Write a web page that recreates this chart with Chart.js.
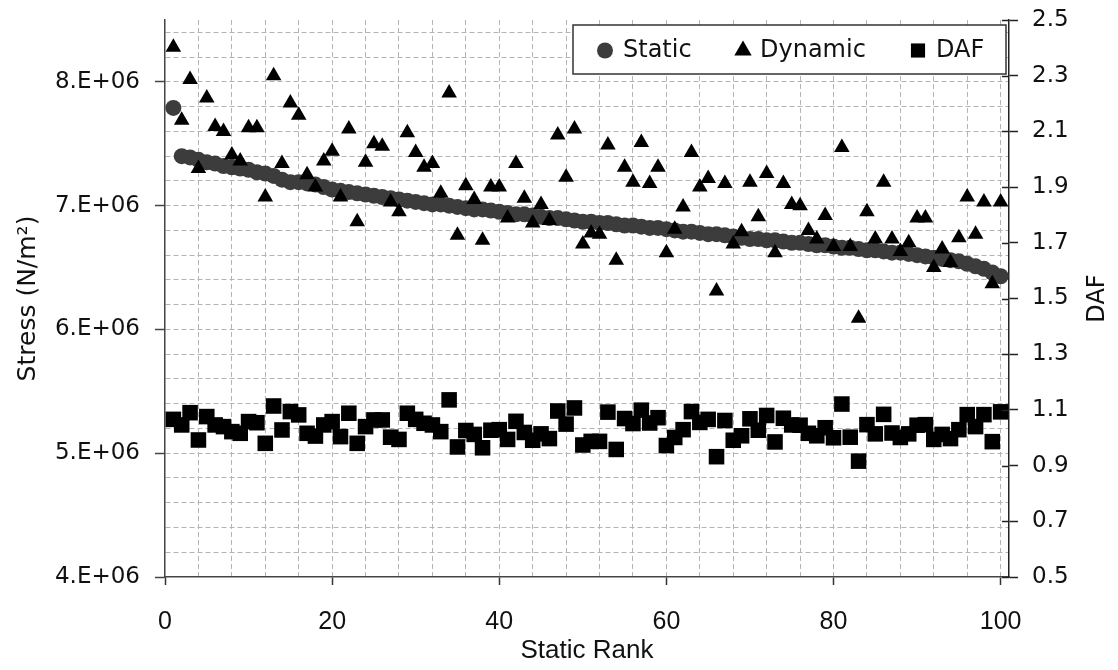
<!DOCTYPE html>
<html><head><meta charset="utf-8">
<script src="https://cdn.jsdelivr.net/npm/chart.js@4.4.1/dist/chart.umd.min.js"></script>
<style>html,body{margin:0;padding:0;background:#fff}#wrap{width:1118px;height:670px;position:relative}</style>
</head><body><div id="wrap"><canvas id="c" width="1118" height="670"></canvas></div>
<script>
// ---- data (stress values in units of 1e6 N/m^2) ----
const ranks = [1,2,3,4,5,6,7,8,9,10,11,12,13,14,15,16,17,18,19,20,21,22,23,24,25,26,27,28,29,30,31,32,33,34,35,36,37,38,39,40,41,42,43,44,45,46,47,48,49,50,51,52,53,54,55,56,57,58,59,60,61,62,63,64,65,66,67,68,69,70,71,72,73,74,75,76,77,78,79,80,81,82,83,84,85,86,87,88,89,90,91,92,93,94,95,96,97,98,99,100];
const staticStress = [7.79,7.40,7.39,7.37,7.35,7.34,7.32,7.31,7.30,7.29,7.27,7.26,7.24,7.21,7.19,7.19,7.18,7.17,7.15,7.13,7.12,7.11,7.10,7.09,7.08,7.07,7.06,7.05,7.04,7.03,7.02,7.01,7.01,7.00,6.99,6.98,6.97,6.97,6.96,6.95,6.94,6.93,6.93,6.92,6.91,6.90,6.90,6.89,6.88,6.87,6.87,6.86,6.86,6.85,6.84,6.84,6.83,6.82,6.82,6.81,6.80,6.79,6.79,6.78,6.77,6.77,6.76,6.75,6.74,6.73,6.73,6.72,6.72,6.71,6.70,6.70,6.69,6.68,6.68,6.67,6.66,6.66,6.65,6.64,6.64,6.63,6.62,6.62,6.61,6.60,6.59,6.58,6.57,6.56,6.55,6.53,6.51,6.49,6.46,6.43];
const dynamicStress = [8.28,7.69,8.02,7.30,7.87,7.64,7.60,7.41,7.36,7.63,7.63,7.07,8.05,7.34,7.83,7.73,7.25,7.15,7.36,7.44,7.07,7.62,6.87,7.35,7.50,7.48,7.03,6.95,7.59,7.43,7.31,7.34,7.10,7.91,6.76,7.16,7.05,6.72,7.15,7.15,6.90,7.34,7.06,6.86,7.01,6.88,7.57,7.23,7.62,6.69,6.78,6.77,7.49,6.56,7.31,7.19,7.51,7.18,7.31,6.62,6.81,6.99,7.43,7.15,7.22,6.31,7.18,6.69,6.79,7.19,6.91,7.26,6.62,7.18,7.01,7.00,6.80,6.73,6.92,6.67,7.47,6.67,6.09,6.95,6.73,7.19,6.73,6.63,6.70,6.90,6.90,6.50,6.65,6.54,6.74,7.07,6.77,7.03,6.37,7.03];
const dafValues = [1.066,1.046,1.090,0.992,1.076,1.046,1.040,1.022,1.016,1.058,1.054,0.980,1.114,1.028,1.094,1.082,1.016,1.006,1.046,1.058,1.004,1.088,0.980,1.040,1.064,1.064,1.002,0.994,1.088,1.066,1.052,1.046,1.022,1.136,0.967,1.026,1.012,0.964,1.027,1.029,0.994,1.059,1.019,0.991,1.014,0.997,1.096,1.049,1.107,0.974,0.987,0.987,1.092,0.958,1.069,1.051,1.099,1.053,1.072,0.972,1.001,1.029,1.094,1.055,1.066,0.932,1.062,0.991,1.007,1.068,1.027,1.080,0.985,1.070,1.046,1.045,1.016,1.007,1.036,1.000,1.121,1.002,0.916,1.047,1.014,1.084,1.017,1.001,1.014,1.045,1.047,0.994,1.012,0.997,1.029,1.083,1.040,1.083,0.986,1.093];
const xTickLabels = [0,20,40,60,80,100];
const leftTickLabels = [4,5,6,7,8];          // x 1e6
const rightTickLabels = [0.5,0.7,0.9,1.1,1.3,1.5,1.7,1.9,2.1,2.3,2.5];
const seriesNames = ['Static','Dynamic','DAF'];

const pts = (xs, ys, k) => xs.map((x, i) => ({x: x, y: ys[i] * k}));
const GRID = '#b4b4b4';
const TXT = '#111';
const noPad = s => { s.paddingTop = 0; s.paddingBottom = 0; s.paddingLeft = 0; s.paddingRight = 0; };

const legendPlugin = {
  id: 'boxLegend',
  afterDraw(chart) {
    const ctx = chart.ctx;
    const ds = chart.data.datasets;
    ctx.save();
    const bx = 573, by = 25, bw = 433, bh = 49;
    ctx.fillStyle = '#fff';
    ctx.fillRect(bx, by, bw, bh);
    ctx.strokeStyle = '#333';
    ctx.lineWidth = 1.5;
    ctx.strokeRect(bx, by, bw, bh);
    const cy = by + bh / 2 + 1;
    const items = [
      {mx: 605, tx: 623, r: 8},
      {mx: 743, tx: 760, r: 10},
      {mx: 918, tx: 936, r: 10}
    ];
    ctx.font = '24px "DejaVu Sans"';
    ctx.textBaseline = 'middle';
    ctx.textAlign = 'left';
    items.forEach((it, i) => {
      ctx.fillStyle = ds[i].backgroundColor;
      Chart.helpers.drawPoint(ctx, {pointStyle: ds[i].pointStyle, radius: it.r, rotation: 0, borderWidth: 0}, it.mx, cy);
      ctx.fillStyle = TXT;
      ctx.fillText(seriesNames[i], it.tx, cy);
    });
    // right axis: inner half of cross tick marks
    const s = chart.scales.y1;
    ctx.strokeStyle = '#222';
    ctx.lineWidth = 1.5;
    s.ticks.forEach(t => {
      const y = Math.round(s.getPixelForValue(t.value)) + 0.5;
      ctx.beginPath(); ctx.moveTo(s.left - 7, y); ctx.lineTo(s.left, y); ctx.stroke();
    });
    // right axis title (reads bottom-to-top)
    const ca = chart.chartArea;
    ctx.save();
    ctx.translate(1098, (ca.top + ca.bottom) / 2);
    ctx.rotate(-Math.PI / 2);
    ctx.textAlign = 'center';
    ctx.textBaseline = 'middle';
    ctx.fillStyle = TXT;
    ctx.font = '24px "DejaVu Sans"';
    ctx.fillText('DAF', 0, 0);
    ctx.restore();
    ctx.restore();
  }
};

new Chart(document.getElementById('c'), {
  type: 'scatter',
  data: {
    datasets: [
      {label: seriesNames[0], data: pts(ranks, staticStress, 1e6), yAxisID: 'y', pointStyle: 'circle', pointRadius: 8, pointHoverRadius: 8, backgroundColor: '#3c3c3c', borderWidth: 0, order: 3},
      {label: seriesNames[1], data: pts(ranks, dynamicStress, 1e6), yAxisID: 'y', pointStyle: 'triangle', pointRadius: 9, pointHoverRadius: 9, backgroundColor: '#000', borderWidth: 0, order: 1},
      {label: seriesNames[2], data: pts(ranks, dafValues, 1), yAxisID: 'y1', pointStyle: 'rect', pointRadius: 11, pointHoverRadius: 11, backgroundColor: '#000', borderWidth: 0, order: 2}
    ]
  },
  options: {
    responsive: false,
    animation: false,
    devicePixelRatio: 1,
    layout: {padding: {top: 20, left: 0, right: 0, bottom: 0}},
    plugins: {legend: {display: false}, tooltip: {enabled: false}},
    scales: {
      x: {
        type: 'linear', min: 0, max: 101,
        afterFit: s => { s.height = 93; noPad(s); },
        afterBuildTicks: s => { const t = []; for (let k = 0; k <= 100; k += 4) t.push({value: k}); s.ticks = t; },
        ticks: {
          autoSkip: false, maxRotation: 0, padding: 22,
          color: TXT, font: {family: '"Liberation Sans"', size: 25},
          callback: v => xTickLabels.includes(v) ? String(v) : ''
        },
        grid: {
          color: c => (c.tick && c.tick.value === 0) ? 'transparent' : GRID,
          lineWidth: 1, tickLength: 8,
          tickColor: c => (c.tick && xTickLabels.includes(c.tick.value)) ? '#333' : 'transparent',
          tickWidth: 1.5
        },
        border: {display: true, color: '#444', width: 1.5, dash: [5, 3]},
        title: {display: true, text: 'Static Rank', color: TXT, font: {family: '"Liberation Sans"', size: 26}, padding: {top: 0, bottom: 4}}
      },
      y: {
        type: 'linear', position: 'left', min: 4e6, max: 8.5e6,
        afterFit: s => { s.width = 165; noPad(s); },
        afterBuildTicks: s => { const t = []; for (let k = 40; k <= 84; k += 2) t.push({value: k * 1e5}); s.ticks = t; },
        ticks: {
          autoSkip: false, padding: 15,
          color: TXT, font: {family: '"DejaVu Sans"', size: 23},
          callback: v => { const m = Math.round(v / 1e6); return (Math.abs(v / 1e6 - m) < 1e-6 && leftTickLabels.includes(m)) ? m + '.E+06' : ''; }
        },
        grid: {
          color: c => (c.tick && Math.abs(c.tick.value - 4e6) < 1) ? 'transparent' : GRID,
          lineWidth: 1, tickLength: 10,
          tickColor: c => { if (!c.tick) return 'transparent'; const m = c.tick.value / 1e6; return Math.abs(m - Math.round(m)) < 1e-6 ? '#444' : 'transparent'; },
          tickWidth: 1.5
        },
        border: {display: true, color: '#444', width: 1.5, dash: [5, 3]},
        title: {display: true, text: 'Stress (N/m²)', color: TXT, font: {family: '"DejaVu Sans"', size: 25}, padding: {top: 13, bottom: 0}}
      },
      y1: {
        type: 'linear', position: 'right', min: 0.5, max: 2.5,
        afterFit: s => { s.width = 109; noPad(s); },
        afterBuildTicks: s => { s.ticks = rightTickLabels.map(v => ({value: v})); },
        ticks: {
          autoSkip: false, padding: 14, color: TXT,
          font: {family: '"DejaVu Sans"', size: 23},
          callback: v => v.toFixed(1)
        },
        grid: {drawOnChartArea: false, tickLength: 9, tickColor: '#222', tickWidth: 1.5},
        border: {display: true, color: '#222', width: 1.5},
        title: {display: false}
      }
    }
  },
  plugins: [legendPlugin]
});
</script></body></html>
